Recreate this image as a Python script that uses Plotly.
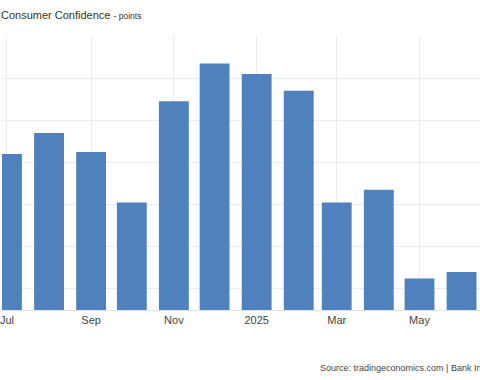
import plotly.graph_objects as go

months = ["2024-07-01", "2024-08-01", "2024-09-01", "2024-10-01", "2024-11-01", "2024-12-01",
          "2025-01-01", "2025-02-01", "2025-03-01", "2025-04-01", "2025-05-01", "2025-06-01"]
values = [123.4, 124.4, 123.5, 121.1, 125.9, 127.7, 127.2, 126.4, 121.1, 121.7, 117.5, 117.8]
tick_vals = ["2024-07-01", "2024-09-01", "2024-11-01", "2025-01-01", "2025-03-01", "2025-05-01"]
tick_text = ["Jul", "Sep", "Nov", "2025", "Mar", "May"]

DAY = 86400000
fig = go.Figure(go.Bar(
    x=months, y=values,
    width=[22 * DAY] * len(months),
    marker=dict(color="#4f81bd", line=dict(width=0)),
))

fig.update_layout(
    width=480, height=380,
    margin=dict(l=0, r=0, t=36, b=70),
    paper_bgcolor="white", plot_bgcolor="white",
    font=dict(family="Liberation Sans, Arial, sans-serif", color="#333333"),
    showlegend=False,
    xaxis=dict(
        type="date",
        range=["2024-06-27 08:00", "2025-06-14 14:00"],
        tickvals=tick_vals, ticktext=tick_text,
        ticklabeloverflow="allow",
        showgrid=True, gridcolor="#ececec", gridwidth=1,
        showline=True, linecolor="#e3e3e3", linewidth=1,
        ticks="", tickfont=dict(size=11, color="#444444"),
        zeroline=False,
    ),
    yaxis=dict(
        range=[116, 129],
        tick0=117, dtick=2,
        showgrid=True, gridcolor="#ececec", gridwidth=1,
        showticklabels=False, zeroline=False, ticks="",
    ),
    annotations=[
        dict(text="Consumer Confidence <span style='font-size:8.5px'>- points</span>",
             xref="paper", yref="paper", x=0, y=1, yshift=21, xshift=-3,
             xanchor="left", yanchor="middle", showarrow=False,
             font=dict(size=11, color="#333333")),
        dict(text="Source: tradingeconomics.com | Bank Indonesia",
             xref="paper", yref="paper", x=0, y=0, xshift=316, yshift=-58,
             xanchor="left", yanchor="middle", showarrow=False,
             font=dict(size=9, color="#444444")),
    ],
)

fig.write_html("out.html", config={"displayModeBar": False},
               post_script="document.body.style.margin='0';document.body.style.padding='0';")
